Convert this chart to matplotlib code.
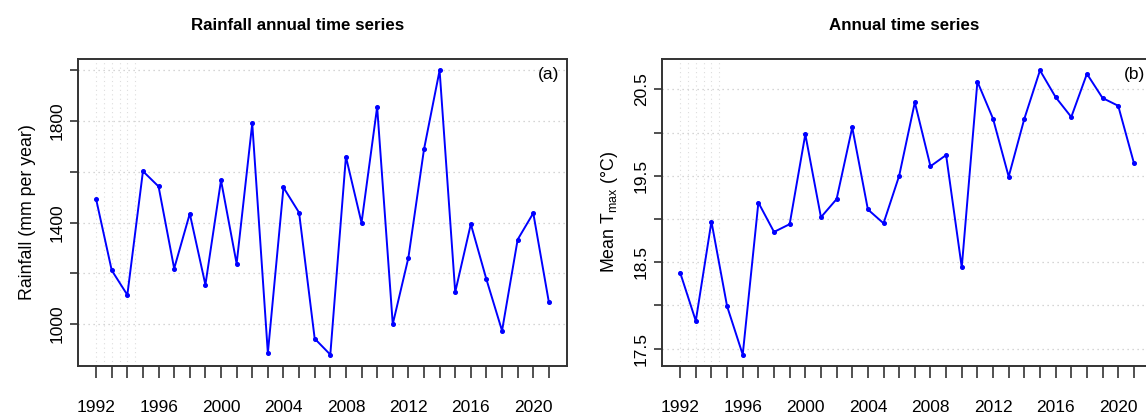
import numpy as np
import matplotlib
matplotlib.use("Agg")
import matplotlib.pyplot as plt

plt.rcParams["font.family"] = ["Liberation Sans", "DejaVu Sans"]

years = np.arange(1992, 2022)
rainfall = [1492, 1212, 1115, 1602, 1542, 1219, 1435, 1155, 1566, 1238,
            1790, 886, 1538, 1439, 943, 880, 1659, 1399, 1855, 1000,
            1261, 1688, 1999, 1126, 1394, 1176, 974, 1333, 1437, 1086]
tmax = [18.38, 17.82, 18.97, 17.99, 17.43, 19.19, 18.85, 18.94, 19.98, 19.02,
        19.23, 20.06, 19.11, 18.95, 19.50, 20.35, 19.61, 19.74, 18.44, 20.59,
        20.16, 19.49, 20.16, 20.72, 20.41, 20.18, 20.68, 20.40, 20.31, 19.65]

rain_ticks = [1000, 1200, 1400, 1600, 1800, 2000]
rain_labels = ["1000", "", "1400", "", "1800", ""]
tmax_ticks = [17.5, 18.0, 18.5, 19.0, 19.5, 20.0, 20.5]
tmax_labels = ["17.5", "", "18.5", "", "19.5", "", "20.5"]
xlabel_years = [1992, 1996, 2000, 2004, 2008, 2012, 2016, 2020]
faint_vlines = [1992, 1992.5, 1993, 1993.5, 1994, 1994.5]

W, H = 1146, 419
fig = plt.figure(figsize=(W / 100, H / 100), dpi=100)


def r_range(v):
    # R's default 4 % axis padding
    lo, hi = min(v), max(v)
    pad = (hi - lo) * 0.04
    return lo - pad, hi + pad


def panel(rect, y, yticks, ylabels, ylabel, tag):
    ax = fig.add_axes(rect)
    for v in yticks:
        ax.axhline(v, color="#c8c8c8", lw=0.9, ls=(0, (1, 3)), zorder=0)
    for v in faint_vlines:
        ax.axvline(v, color="#dddddd", lw=0.8, ls=(0, (1, 3)), zorder=0)
    ax.plot(years, y, color="blue", lw=1.4, marker="o", ms=2.6, zorder=3)
    ax.set_xlim(*r_range(years))
    ax.set_ylim(*r_range(y))
    ax.set_xticks(years)
    ax.set_xticklabels([str(yr) if yr in xlabel_years else "" for yr in years])
    ax.set_yticks(yticks)
    ax.set_yticklabels(ylabels, rotation=90, va="center")
    ax.tick_params(axis="x", length=8.5, width=1.2, pad=16, labelsize=12.5,
                   color="#333333")
    ax.tick_params(axis="y", length=6, width=1.2, pad=3.5, labelsize=12.5,
                   color="#333333")
    for s in ax.spines.values():
        s.set_linewidth(1.4)
        s.set_color("#333333")
    ax.set_ylabel(ylabel, fontsize=12.8, labelpad=10)
    ax.text(0.985, 0.95, tag, transform=ax.transAxes, ha="right", va="center",
            fontsize=12.5)
    return ax


panel([78 / W, 1 - 366 / H, 489 / W, 307 / H], rainfall, rain_ticks,
      rain_labels, "Rainfall (mm per year)", "(a)")
panel([662 / W, 1 - 366 / H, 490 / W, 307 / H], tmax, tmax_ticks,
      tmax_labels, r"Mean T$_{\mathregular{max}}$ (°C)", "(b)")

fig.text(298 / W, 1 - 25 / H, "Rainfall annual time series", ha="center",
         va="center", fontsize=12.2, fontweight="bold")
fig.text(904 / W, 1 - 25 / H, "Annual time series", ha="center",
         va="center", fontsize=12.2, fontweight="bold")

fig.savefig("out.png", dpi=100)
